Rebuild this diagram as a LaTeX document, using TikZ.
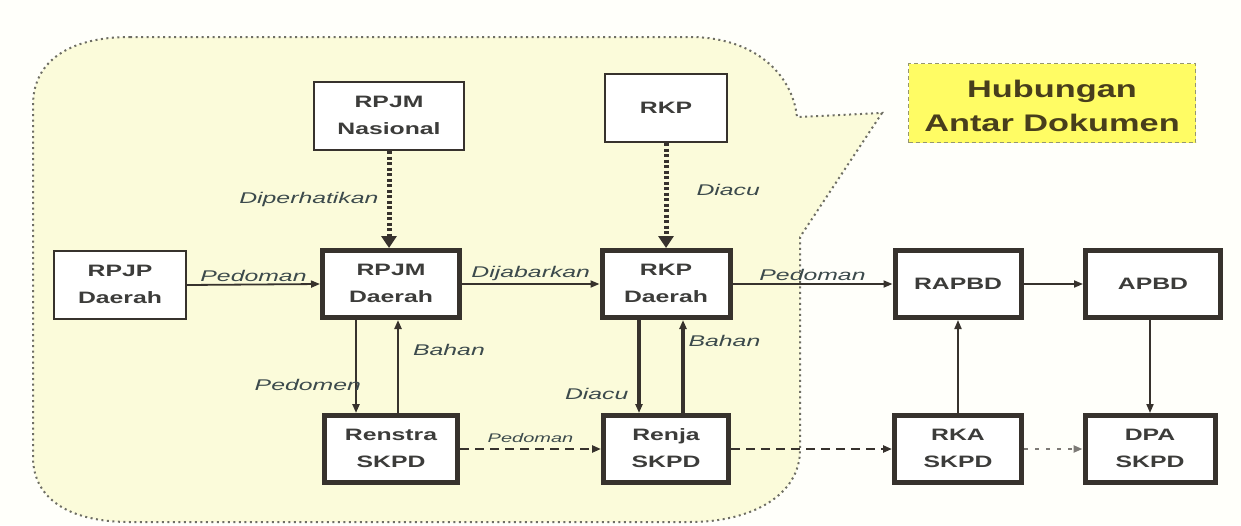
\documentclass[tikz,border=0pt]{standalone}
\usepackage{fontspec}
\setmainfont{Liberation Sans}
\usepackage{graphicx}
\usetikzlibrary{arrows.meta,positioning}
\definecolor{bgcol}{RGB}{255,255,250}
\definecolor{blobfill}{RGB}{251,251,218}
\definecolor{blobline}{RGB}{110,110,100}
\definecolor{boxline}{RGB}{55,50,45}
\definecolor{boxtext}{RGB}{60,60,58}
\definecolor{lblcol}{RGB}{60,74,76}
\definecolor{titlefill}{RGB}{255,252,100}
\definecolor{titletext}{RGB}{72,62,28}
\definecolor{titleline}{RGB}{150,150,110}
\newcommand{\doctext}[1]{\scalebox{1.5}[1]{\begin{tabular}{@{}c@{}}#1\end{tabular}}}
\newcommand{\lbltext}[1]{\scalebox{1.6}[1]{#1}}
\tikzset{doc/.style={draw=boxline,line width=2pt,fill=white,inner sep=0pt,outer sep=auto,minimum height=68pt,font=\fontsize{16.5}{27}\selectfont\bfseries,text=boxtext},
docthick/.style={doc,line width=5pt,minimum height=67pt},
lbl/.style={font=\fontsize{15.5}{18}\selectfont\itshape,text=lblcol,inner sep=2pt},
flow/.style={draw=boxline,line width=1.8pt,-{Triangle[length=9pt,width=7pt]}},
heavy/.style={draw=boxline,line width=5pt,dash pattern=on 3pt off 2.5pt,-{Triangle[length=12pt,width=15pt]}},
dashflow/.style={flow,line width=2.6pt,dash pattern=on 9pt off 6pt},
dotflow/.style={flow,draw=boxline!65,line width=2.2pt,dash pattern=on 4pt off 7pt},
blob/.style={draw=blobline,fill=blobfill,line width=2pt,dash pattern=on 2pt off 3.5pt},
judul/.style={draw=titleline,fill=titlefill,line width=1.5pt,dash pattern=on 4pt off 3pt,minimum width=287pt,minimum height=79pt,inner sep=0pt,font=\fontsize{24}{34}\selectfont\bfseries,text=titletext}}
\begin{document}
\begin{tikzpicture}[x=1pt,y=-1pt]
\useasboundingbox[fill=bgcol] (0,0) rectangle (1241,525);
% daerah
\draw[blob] (130,37) -- (690,37) .. controls (752,37) and (792,72) .. (797,117) -- (882,113) -- (800,237) -- (800,450) .. controls (800,495) and (752,522) .. (690,522) -- (130,522) .. controls (68,522) and (33,498) .. (33,457) -- (33,105) .. controls (33,62) and (68,37) .. (130,37) -- cycle;
\node[judul] (hub) at (1052,103) {\raisebox{-5pt}[\height][\depth]{\scalebox{1.43}[1]{\begin{tabular}{@{}c@{}}Hubungan\\Antar Dokumen\end{tabular}}}};
% dokumen
\node[doc,minimum width=150pt] (rpjmn) at (389,116) {\doctext{RPJM\\Nasional}};
\node[doc,minimum width=122pt] (rkp) at (666,108) {\doctext{RKP}};
\node[doc,minimum width=132pt] (rpjpd) at (120,285) {\doctext{RPJP\\Daerah}};
\node[docthick,minimum width=137pt] (rpjmd) at (391,284) {\doctext{RPJM\\Daerah}};
\node[docthick,minimum width=128pt] (rkpd) at (666,284) {\doctext{RKP\\Daerah}};
\node[docthick,minimum width=126pt] (rapbd) at (958,284) {\doctext{RAPBD}};
\node[docthick,minimum width=135pt] (apbd) at (1153,284) {\doctext{APBD}};
\node[docthick,minimum width=133pt] (renstra) at (391,449) {\doctext{Renstra\\SKPD}};
\node[docthick,minimum width=125pt] (renja) at (666,449) {\doctext{Renja\\SKPD}};
\node[docthick,minimum width=127pt] (rka) at (958,449) {\doctext{RKA\\SKPD}};
\node[docthick,minimum width=130pt] (dpa) at (1150,449) {\doctext{DPA\\SKPD}};
% hubungan
\draw[heavy] (rpjmn.south) -- (rpjmn.south |- rpjmd.north) node[lbl,midway,left=6pt] (l1) {\lbltext{Diperhatikan}};
\draw[heavy] (rkp.south) -- (rkp.south |- rkpd.north) node[lbl,pos=0.45,right=26pt] (l2) {\lbltext{Diacu}};
\draw[flow] (rpjpd.east) -- (rpjmd.west) node[lbl,midway,above] (l3) {\lbltext{Pedoman}};
\draw[flow] (rpjmd.east) -- (rkpd.west) node[lbl,midway,above] (l4) {\lbltext{Dijabarkan}};
\draw[flow] (rkpd.east) -- (rapbd.west) node[lbl,midway,above] (l5) {\lbltext{Pedoman}};
\draw[flow] (rapbd.east) -- (apbd.west);
\draw[flow,line width=2.2pt] ([xshift=-35pt]rpjmd.south) -- ([xshift=-35pt]renstra.north) node[lbl,pos=0.7,left=-8pt] (l6) {\lbltext{Pedomen}};
\draw[flow,line width=2.2pt] ([xshift=7pt]renstra.north) -- ([xshift=7pt]rpjmd.south) node[lbl,pos=0.68,right=12pt] (l7) {\lbltext{Bahan}};
\draw[flow,line width=3.2pt] ([xshift=-27pt]rkpd.south) -- ([xshift=-27pt]renja.north) node[lbl,pos=0.8,left=7pt] (l8) {\lbltext{Diacu}};
\draw[flow,line width=3.2pt] ([xshift=17pt]renja.north) -- ([xshift=17pt]rkpd.south) node[lbl,pos=0.78,right=2pt] (l9) {\lbltext{Bahan}};
\draw[dashflow] (renstra.east) -- (renja.west) node[lbl,font=\fontsize{12.5}{15}\selectfont\itshape,midway,above=3pt] (l10) {\lbltext{Pedoman}};
\draw[dashflow] (renja.east) -- (rka.west);
\draw[dotflow] (rka.east) -- (dpa.west);
\draw[flow] (rka.north) -- (rapbd.south);
\draw[flow] (apbd.south -| dpa.north) -- (dpa.north);
\end{tikzpicture}
\end{document}
